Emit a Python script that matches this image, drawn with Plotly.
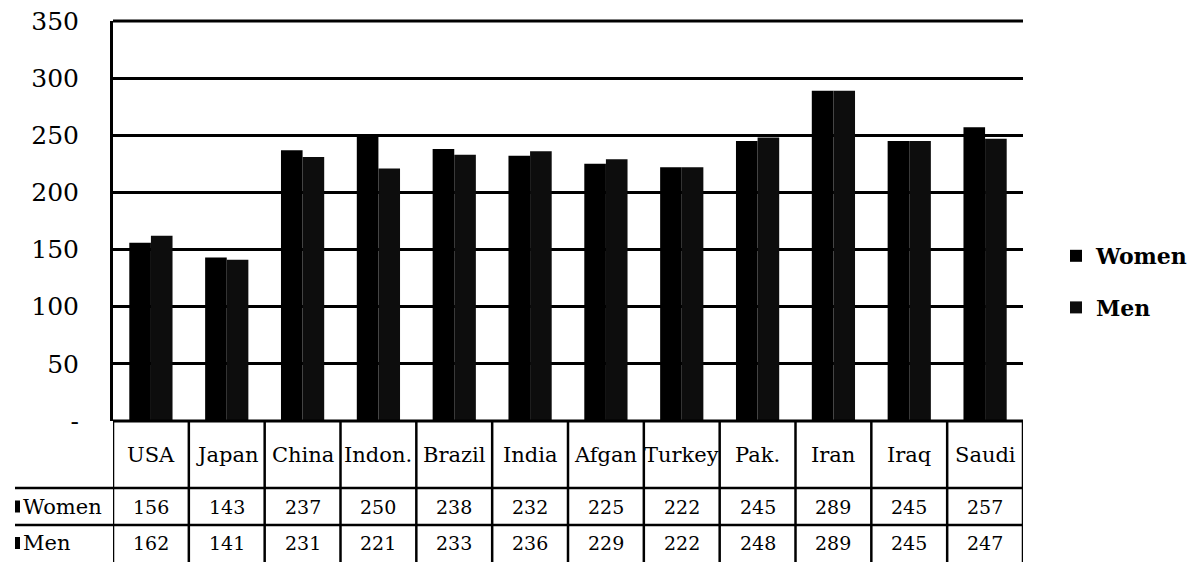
import plotly.graph_objects as go

categories = ["USA", "Japan", "China", "Indon.", "Brazil", "India", "Afgan",
              "Turkey", "Pak.", "Iran", "Iraq", "Saudi"]
women = [156, 143, 237, 250, 238, 232, 225, 222, 245, 289, 245, 257]
men = [162, 141, 231, 221, 233, 236, 229, 222, 248, 289, 245, 247]
series_names = ["Women", "Men"]
y_ticks = [0, 50, 100, 150, 200, 250, 300, 350]
y_ticktext = ["-", "50", "100", "150", "200", "250", "300", "350"]

W, H = 1199, 562
ML, MR, MT, MB = 113, 176, 21, 141
PW = W - ML - MR
PH = H - MT - MB

def py(pix):
    """pixel y (from top) -> paper y"""
    return (H - MB - pix) / PH

def px(pix):
    return (pix - ML) / PW

FONT = "DejaVu Serif"
LINE = "black"

fig = go.Figure()
fig.add_trace(go.Bar(x=categories, y=women, name=series_names[0],
                     marker=dict(color="#000000", line=dict(width=0)),
                     legendgroup="w"))
fig.add_trace(go.Bar(x=categories, y=men, name=series_names[1],
                     marker=dict(color="#0d0d0d", line=dict(width=0)),
                     legendgroup="m"))

shapes = []
annotations = []
n = len(categories)

# top border line of plot (350 level)
shapes.append(dict(type="line", xref="x", yref="paper", x0=-0.5, x1=n - 0.5,
                   y0=1, y1=1, line=dict(color=LINE, width=3)))

# table row boundaries (pixel y)
y_top, y_r1, y_r2, y_bot = 421, 488, 525, 566

# vertical column lines
for i in range(n + 1):
    shapes.append(dict(type="line", xref="x", yref="paper",
                       x0=i - 0.5, x1=i - 0.5, y0=py(y_top), y1=py(y_bot),
                       line=dict(color=LINE, width=2.5)))
# horizontal lines
shapes.append(dict(type="line", xref="x", yref="paper", x0=-0.5, x1=n - 0.5,
                   y0=py(y_top), y1=py(y_top), line=dict(color=LINE, width=3)))
for yy in (y_r1, y_r2):
    shapes.append(dict(type="line", xref="paper", yref="paper",
                       x0=px(15), x1=1, y0=py(yy), y1=py(yy),
                       line=dict(color=LINE, width=2.5)))

TF = dict(family=FONT, size=19, color="black")
# category labels and values
for i, c in enumerate(categories):
    annotations.append(dict(x=c, y=py((y_top + y_r1) / 2), xref="x", yref="paper",
                            xanchor="center", yanchor="middle",
                            text=c, showarrow=False,
                            font=dict(family=FONT, size=21, color="black")))
    annotations.append(dict(x=c, y=py((y_r1 + y_r2) / 2), xref="x", yref="paper",
                            xanchor="center", yanchor="middle",
                            text=str(women[i]), showarrow=False, font=TF))
    annotations.append(dict(x=c, y=py(543), xref="x", yref="paper",
                            xanchor="center", yanchor="middle",
                            text=str(men[i]), showarrow=False, font=TF))

# row labels with legend keys
for name, yc in zip(series_names, [(y_r1 + y_r2) / 2, 543]):
    annotations.append(dict(x=px(21), y=py(yc), xref="paper", yref="paper",
                            xanchor="left", yanchor="middle", text=name,
                            showarrow=False,
                            font=dict(family=FONT, size=21, color="black")))
    shapes.append(dict(type="rect", xref="paper", yref="paper",
                       x0=px(15), x1=px(20), y0=py(yc + 6), y1=py(yc - 6),
                       fillcolor="black", line=dict(width=0)))

fig.update_layout(
    template="none",
    width=W, height=H,
    margin=dict(l=ML, r=MR, t=MT, b=MB, pad=0, autoexpand=False),
    paper_bgcolor="white", plot_bgcolor="white",
    barmode="group", bargap=0.43, bargroupgap=0,
    font=dict(family=FONT, color="black"),
    xaxis=dict(type="category", categoryorder="array", categoryarray=categories,
               range=[-0.5, n - 0.5], showticklabels=False, showgrid=False,
               zeroline=False, showline=False, ticks="", automargin=False),
    yaxis=dict(range=[0, 350], tickvals=y_ticks, ticktext=y_ticktext,
               showgrid=True, gridcolor=LINE, gridwidth=3,
               showline=True, linecolor=LINE, linewidth=3,
               zeroline=False, ticks="", ticklabelstandoff=26, automargin=False,
               tickfont=dict(family=FONT, size=25, color="black")),
    legend=dict(x=px(1056), xanchor="left", y=py(282), yanchor="middle",
                traceorder="grouped", tracegroupgap=20,
                font=dict(family=FONT, size=22, color="black", weight="bold"),
                bgcolor="rgba(0,0,0,0)", borderwidth=0),
    shapes=shapes, annotations=annotations,
)

fig.write_html("out.html", config={"displayModeBar": False},
               post_script="document.body.style.margin='0px';")
